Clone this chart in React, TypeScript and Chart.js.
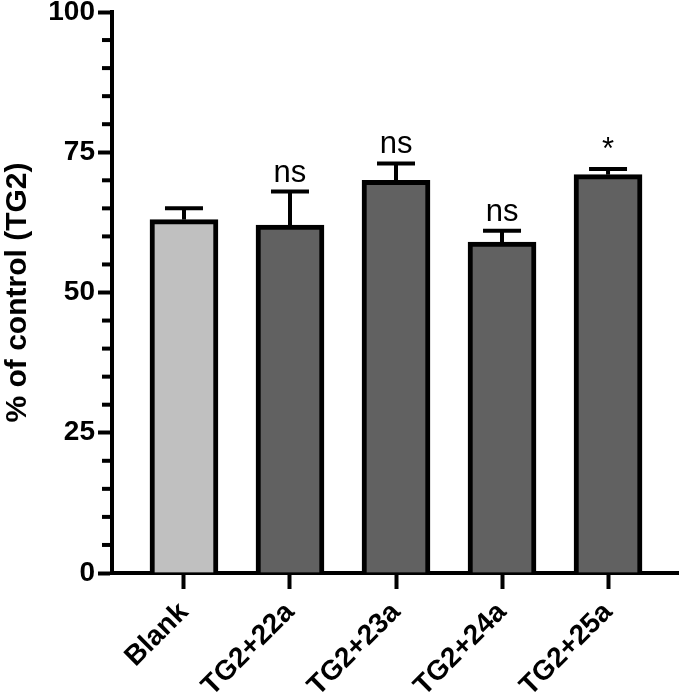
import React, { useEffect, useRef } from 'react';
import { Chart, registerables } from 'chart.js';

Chart.register(...registerables);

const categories = ['Blank', 'TG2+22a', 'TG2+23a', 'TG2+24a', 'TG2+25a'];
const means = [63, 62, 70, 59, 71];
const errorsUp = [2, 6, 3, 2, 1];
const significance = ['', 'ns', 'ns', 'ns', '*'];
const barColors = ['#c0c0c0', '#616161', '#616161', '#616161', '#616161'];
const yMajorTicks = [0, 25, 50, 75, 100];
const yMinorStep = 5;
const yTitle = '% of control (TG2)';

const FONT = '"Liberation Sans", Arial, Helvetica, sans-serif';

const extrasPlugin = {
  id: 'extras',
  afterDatasetsDraw(chart: any) {
    const { ctx, scales, chartArea } = chart;
    const x = scales.x;
    const y = scales.y;
    ctx.save();
    ctx.strokeStyle = '#000';
    ctx.fillStyle = '#000';
    ctx.lineWidth = 4;
    ctx.lineCap = 'butt';
    means.forEach((m, i) => {
      const px = x.getPixelForValue(i);
      const base = y.getPixelForValue(m);
      const top = y.getPixelForValue(m + errorsUp[i]);
      ctx.beginPath();
      ctx.moveTo(px, base);
      ctx.lineTo(px, top);
      ctx.stroke();
      ctx.beginPath();
      ctx.moveTo(px - 19, top);
      ctx.lineTo(px + 19, top);
      ctx.stroke();
      const s = significance[i];
      if (s) {
        ctx.font = `31px ${FONT}`;
        ctx.textAlign = 'center';
        ctx.textBaseline = 'alphabetic';
        ctx.fillText(s, px, top - 10);
      }
    });
    // minor y ticks
    const left = chartArea.left;
    for (let v = 0; v <= 100; v += yMinorStep) {
      if (yMajorTicks.includes(v)) continue;
      const py = y.getPixelForValue(v);
      ctx.beginPath();
      ctx.moveTo(left - 10, py);
      ctx.lineTo(left, py);
      ctx.stroke();
    }
    ctx.restore();
  },
};

export default function App() {
  const canvasRef = useRef<HTMLCanvasElement | null>(null);

  useEffect(() => {
    if (!canvasRef.current) return;
    const chart = new Chart(canvasRef.current, {
      type: 'bar',
      data: {
        datasets: [
          {
            data: means.map((m, i) => ({ x: i, y: m })),
            backgroundColor: barColors,
            borderColor: '#000',
            borderWidth: 5,
            barThickness: 68,
            borderSkipped: 'start',
          } as any,
        ],
      },
      options: {
        animation: false,
        responsive: true,
        maintainAspectRatio: false,
        layout: { padding: { top: 12, right: 2, left: 0, bottom: 0 } },
        plugins: {
          legend: { display: false },
          tooltip: { enabled: false },
        },
        scales: {
          x: {
            type: 'linear',
            min: -0.679,
            max: 4.66,
            offset: false,
            grid: {
              offset: false,
              drawOnChartArea: false,
              tickLength: 16,
              tickWidth: 4,
              tickColor: '#000',
            },
            border: { display: true, width: 4, color: '#000' },
            afterBuildTicks: (scale: any) => {
              scale.ticks = categories.map((_, i) => ({ value: i }));
            },
            afterFit: (scale: any) => {
              scale.height = 123;
              scale.paddingLeft = 0;
              scale.paddingRight = 0;
            },
            ticks: {
              autoSkip: false,
              minRotation: 45,
              maxRotation: 45,
              padding: 7,
              color: '#000',
              font: { family: FONT, size: 28, weight: 'bold' },
              callback: (v: any) => categories[v] ?? '',
            },
          },
          y: {
            min: 0,
            max: 100,
            afterBuildTicks: (scale: any) => {
              scale.ticks = yMajorTicks.map((v) => ({ value: v }));
            },
            afterFit: (scale: any) => {
              scale.width = 112;
              scale.paddingTop = 0;
              scale.paddingBottom = 0;
            },
            grid: {
              drawOnChartArea: false,
              tickLength: 14,
              tickWidth: 4,
              tickColor: '#000',
            },
            border: { display: true, width: 4, color: '#000' },
            ticks: {
              padding: 3,
              color: '#000',
              font: { family: FONT, size: 28, weight: 'bold' },
            },
            title: {
              display: true,
              text: yTitle,
              color: '#000',
              padding: { top: 0, bottom: 0 },
              font: { family: FONT, size: 30, weight: 'bold' },
            },
          },
        },
      } as any,
      plugins: [extrasPlugin],
    });
    return () => chart.destroy();
  }, []);

  return (
    <div style={{ position: 'fixed', left: 0, top: 0, width: 680, height: 696, background: '#fff' }}>
      <canvas ref={canvasRef} />
    </div>
  );
}
